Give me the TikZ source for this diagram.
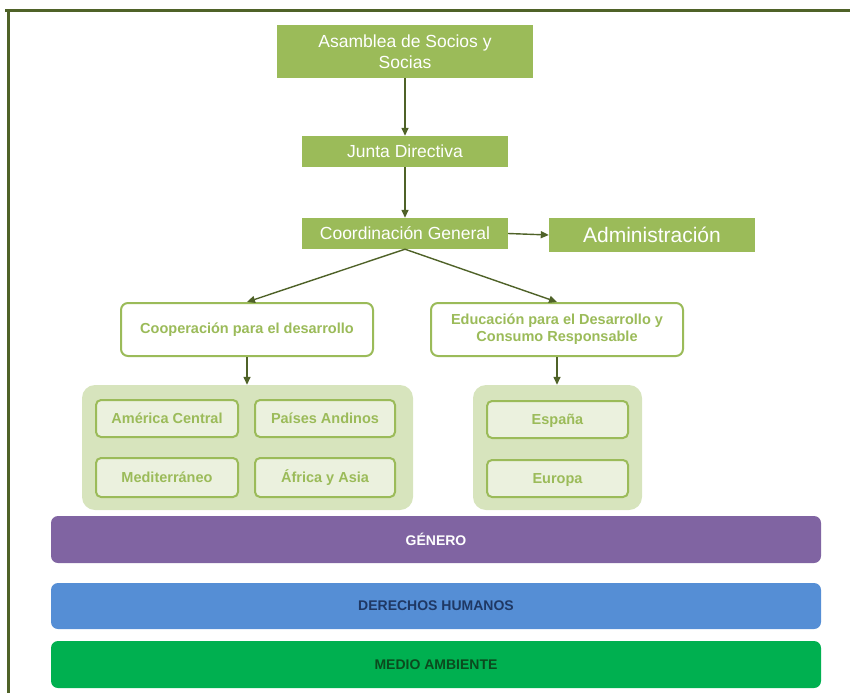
\documentclass[tikz,border=0pt]{standalone}
\usepackage{fontspec}
\setmainfont{Liberation Sans}
\usepackage{xcolor}
\usepackage{tikz}
\usetikzlibrary{shapes, arrows.meta, positioning}

\definecolor{olive}{HTML}{9BBB59}
\definecolor{oliveDark}{HTML}{4F6228}
\definecolor{oliveLight}{HTML}{D7E4BD}
\definecolor{olivePale}{HTML}{EBF1DE}
\definecolor{lila}{HTML}{8064A2}
\definecolor{azul}{HTML}{558ED5}
\definecolor{azulTxt}{HTML}{1F3864}
\definecolor{verde}{HTML}{00B050}
\definecolor{verdeTxt}{HTML}{0B4A1E}

\begin{document}
\begin{tikzpicture}[x=1pt, y=-1pt,
            head/.style={rectangle, fill=olive, text=white, inner sep=0pt, align=center,
                         font=\fontsize{17.5}{21}\selectfont},
            area/.style={rectangle, rounded corners=7pt, draw=olive, line width=2pt, fill=white,
                         text=olive, inner sep=0pt, align=center, font=\bfseries\fontsize{14.5}{17}\selectfont},
            group/.style={rectangle, rounded corners=13pt, fill=oliveLight, inner sep=0pt},
            region/.style={rectangle, rounded corners=5pt, draw=olive, line width=2pt, fill=olivePale,
                         text=olive, inner sep=0pt, text height=10pt, text depth=1pt,
                         font=\bfseries\fontsize{14.5}{17}\selectfont},
            axis/.style={rectangle, rounded corners=7pt, minimum width=770pt, inner sep=0pt,
                         font=\bfseries\fontsize{14}{16}\selectfont},
            arrow/.style={-{Triangle[length=8pt, width=7pt]}, line width=1.4pt, oliveDark}]

            \useasboundingbox (0,0) rectangle (850,693);
            \draw[oliveDark, line width=3pt] (5,11) -- (850,11);
            \draw[oliveDark, line width=3pt] (8,11) -- (8,693);

            \node[head, minimum width=256pt, minimum height=53pt] (asamblea) at (405,51.5) {Asamblea de Socios y\\Socias};
            \node[head, minimum width=206pt, minimum height=31pt] (junta) at (405,151.5) {Junta Directiva};
            \node[head, minimum width=206pt, minimum height=31pt] (coord) at (405,233.5) {Coordinación General};
            \node[head, minimum width=206pt, minimum height=34pt, font=\fontsize{21}{24}\selectfont] (admin) at (652,235) {Administración};

            \node[area, minimum width=252pt, minimum height=53pt] (coop) at (247,329.5) {Cooperación para el desarrollo};
            \node[area, minimum width=252pt, minimum height=53pt] (edu) at (557,329.5) {Educación para el Desarrollo y\\Consumo Responsable};

            \node[group, minimum width=331pt, minimum height=125pt] (grpA) at (247.5,447.5) {};
            \node[group, minimum width=169pt, minimum height=125pt] (grpB) at (557.5,447.5) {};

            \node[region, minimum width=142pt, minimum height=37pt] (america) at (167,418.5) {América Central};
            \node[region, minimum width=140pt, minimum height=37pt] (andinos) at (325,418.5) {Países Andinos};
            \node[region, minimum width=142pt, minimum height=39pt] (medit) at (167,477.5) {Mediterráneo};
            \node[region, minimum width=140pt, minimum height=39pt] (africa) at (325,477.5) {África y Asia};
            \node[region, minimum width=141pt, minimum height=37pt] (espana) at (557.5,419.5) {España};
            \node[region, minimum width=141pt, minimum height=37pt] (europa) at (557.5,478.5) {Europa};

            \node[axis, fill=lila, text=white, minimum height=47pt] (genero) at (436,539.5) {GÉNERO};
            \node[axis, fill=azul, text=azulTxt, minimum height=46pt] (ddhh) at (436,606) {DERECHOS HUMANOS};
            \node[axis, fill=verde, text=verdeTxt, minimum height=47pt] (medio) at (436,664.5) {MEDIO AMBIENTE};

            \draw[arrow] (asamblea) -- (junta);
            \draw[arrow] (junta) -- (coord);
            \draw[arrow] (coord.east) -- (admin.west);
            \draw[arrow] (coord.south) -- (coop.north);
            \draw[arrow] (coord.south) -- (edu.north);
            \draw[arrow] (coop.south) -- (grpA.north -| coop.south);
            \draw[arrow] (edu.south) -- (grpB.north -| edu.south);
        \end{tikzpicture}
\end{document}
